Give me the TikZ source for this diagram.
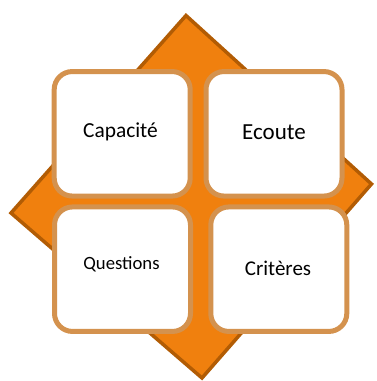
\documentclass[tikz,border=0pt]{standalone}
\usepackage{fontspec}
\setmainfont{Carlito}
\definecolor{diafill}{RGB}{240,128,14}
\definecolor{diaedge}{RGB}{178,92,4}
\definecolor{cardline}{RGB}{212,146,78}
\begin{document}
\begin{tikzpicture}[x=1pt,y=-1pt,
  card/.style={draw=cardline, line width=5pt, fill=white, rounded corners=18pt,
    inner sep=0pt, minimum width=136pt, minimum height=124.5pt},
  lbl/.style={anchor=base, inner sep=0pt, text=black}]
\useasboundingbox (0,0) rectangle (376,381);
\coordinate (dt) at (186,15.5);
\coordinate (dr) at (371.5,184);
\coordinate (db) at (202,378);
\coordinate (dl) at (11,213);
\draw[fill=diafill, draw=diaedge, line width=3.5pt, line join=miter]
  (dt) -- (dr) -- (db) -- (dl) -- cycle;
\node[card] (cap) at (122.2,133.8) {};
\node[card] (eco) at (274,133.8) {};
\node[card] (que) at (122.5,269.2) {};
\node[card] (cri) at (278.8,269.2) {};
\node[lbl, font=\fontsize{21.4}{24}\selectfont] (tcap) at (120.5,137) {Capacité};
\node[lbl, font=\fontsize{23}{26}\selectfont] (teco) at (274,139) {Ecoute};
\node[lbl, font=\fontsize{18.7}{22}\selectfont] (tque) at (121.5,269) {Questions};
\node[lbl, font=\fontsize{21}{24}\selectfont] (tcri) at (278,275.7) {Critères};
\end{tikzpicture}
\end{document}
